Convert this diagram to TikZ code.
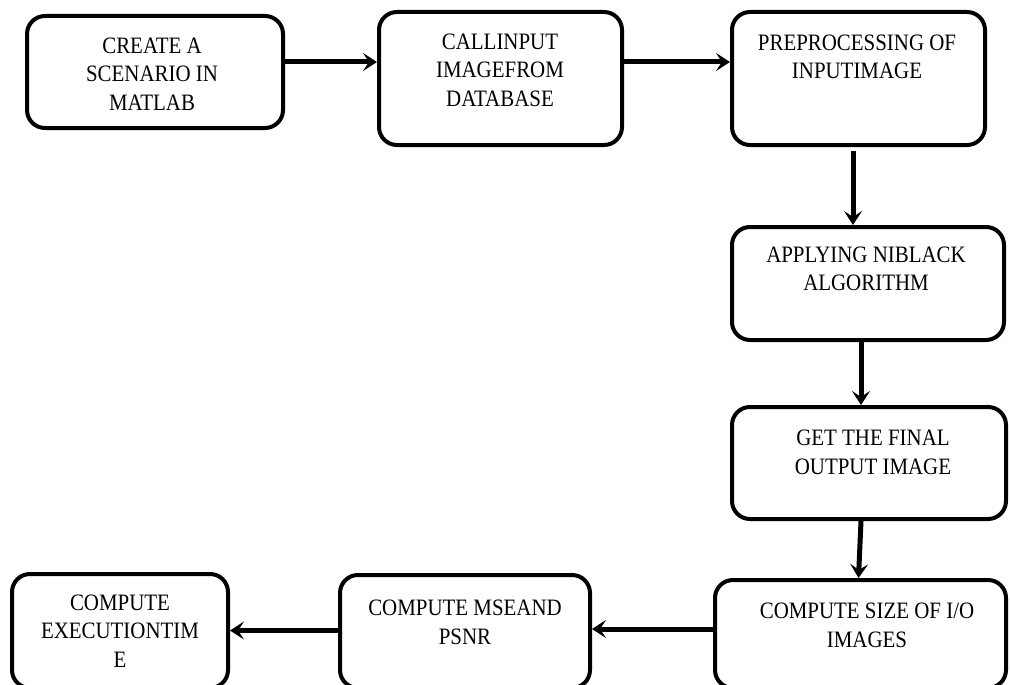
\documentclass[tikz,border=0pt]{standalone}
\usepackage{fontspec}
\setmainfont{Liberation Serif}[FakeStretch=0.89]
\usetikzlibrary{arrows.meta}
\begin{document}
\begin{tikzpicture}[x=1pt,y=-1pt,
  box/.style={draw=black,line width=4pt,rounded corners=18pt,inner sep=0pt,fill=none},
  lbl/.style={align=center,inner sep=0pt,font=\fontsize{23.5}{28.5}\selectfont},
  arr/.style={draw=black,line width=5pt,-{Stealth[length=14pt,width=18pt,inset=6pt]}}]
\useasboundingbox (0,0) rectangle (1010,685);
\clip (0,0) rectangle (1010,685);
% boxes
\node[box,minimum width=256pt,minimum height=112pt] (b1) at (155,72) {};
\node[box,minimum width=243pt,minimum height=133pt] (b2) at (500.5,78.5) {};
\node[box,minimum width=253pt,minimum height=133pt] (b3) at (858.5,78.5) {};
\node[box,minimum width=272pt,minimum height=113pt] (b4) at (868,283.5) {};
\node[box,minimum width=274pt,minimum height=112pt] (b5) at (869,463) {};
\node[box,minimum width=291pt,minimum height=108pt] (b6) at (860.5,634) {};
\node[box,minimum width=250pt,minimum height=113pt] (b7) at (465,631.5) {};
\node[box,minimum width=216pt,minimum height=114pt] (b8) at (120,631) {};
% labels
\node[lbl] (t1) at (152,74) {CREATE A\\SCENARIO IN\\MATLAB};
\node[lbl] (t2) at (500,70) {CALLINPUT\\IMAGEFROM\\DATABASE};
\node[lbl] (t3) at (857,57) {PREPROCESSING OF\\INPUTIMAGE};
\node[lbl] (t4) at (866,269) {APPLYING NIBLACK\\ALGORITHM};
\node[lbl] (t5) at (873,452.5) {GET THE FINAL\\OUTPUT IMAGE};
\node[lbl] (t6) at (867,625.5) {COMPUTE SIZE OF I/O\\IMAGES};
\node[lbl] (t7) at (465,622.5) {COMPUTE MSEAND\\PSNR};
\node[lbl] (t8) at (120,631) {COMPUTE\\EXECUTIONTIM\\E};
% connectors
\draw[arr] ([yshift=10pt]b1.east) -- ([yshift=10pt]b1.east -| b2.west);
\draw[arr] ([yshift=16.5pt]b2.east) -- ([yshift=16.5pt]b2.east -| b3.west);
\draw[arr] ([xshift=-5.5pt,yshift=-4pt]b3.south) -- ([xshift=-5.5pt]b3.south |- b4.north);
\draw[arr] ([xshift=-7pt]b4.south) -- ([xshift=-8pt]b5.north);
\draw[arr] ([xshift=-8pt]b5.south) -- ([xshift=-2pt]b6.north);
\draw[arr] ([yshift=5pt]b6.west) -- ([yshift=5pt]b6.west -| b7.east);
\draw[arr] ([yshift=1pt]b7.west) -- ([yshift=1pt]b7.west -| b8.east);
\end{tikzpicture}
\end{document}
